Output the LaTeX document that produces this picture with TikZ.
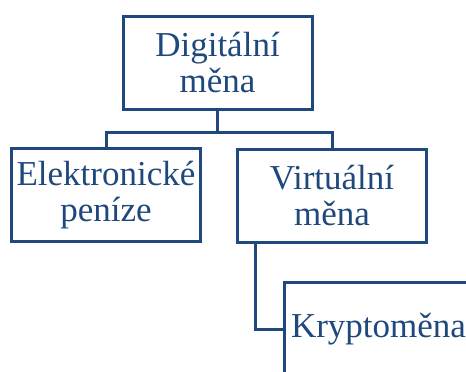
\documentclass[tikz,border=0pt]{standalone}
\usepackage{fontspec}
\setmainfont{Liberation Serif}
\definecolor{navy}{RGB}{31,73,125}
\begin{document}
\begin{tikzpicture}[x=1pt,y=1pt,
  box/.style={draw=navy, line width=3pt, text=navy, minimum width=189pt, minimum height=93pt,
    inner sep=0pt, align=center, font=\fontsize{35}{36}\selectfont},
  link/.style={draw=navy, line width=3pt}]
\clip (0,0) rectangle (466,-372);
\useasboundingbox (0,0) rectangle (466,-372);
\node[box] (top) at (217.5,-62.5) {Digitální\\měna};
\node[box] (elek) at (106,-195) {Elektronické\\peníze};
\node[box] (virt) at (332,-195.5) {Virtuální\\měna};
\node[box] (kryp) at (378.5,-329) {Kryptoměna};
\draw[link] (top.south) -- ++(0,-22) coordinate (j) -| (elek.north);
\draw[link] (j) -| (virt.north);
\draw[link] ([xshift=19pt]virt.south west) |- (kryp.west);
\end{tikzpicture}
\end{document}
